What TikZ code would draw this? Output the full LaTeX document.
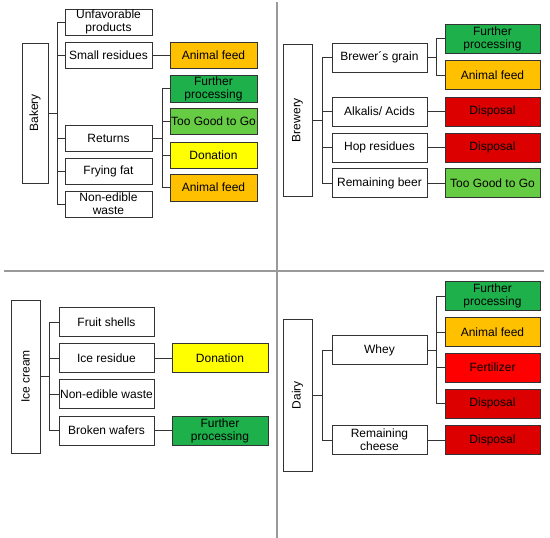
\documentclass[tikz,border=0pt]{standalone}
\usepackage{fontspec}
\setmainfont{Liberation Sans}
\definecolor{fgreen}{HTML}{1DB04B}
\definecolor{lgreen}{HTML}{66CC44}
\definecolor{forange}{HTML}{FFC000}
\definecolor{fyellow}{HTML}{FFFF00}
\definecolor{fred}{HTML}{FF0000}
\definecolor{dred}{HTML}{DD0000}
\definecolor{lines}{HTML}{333333}
\begin{document}
\begin{tikzpicture}[x=1pt,y=-1pt,
  box/.style={draw=lines,line width=1pt,inner sep=0pt,align=center,
    font=\fontsize{12}{13}\selectfont,text=black},
  lone/.style={box,minimum width=87pt,minimum height=26pt},
  ltwo/.style={box,minimum width=95pt,minimum height=29pt},
  root/.style={box,rotate=90},
  conn/.style={draw=lines,line width=1pt},
  divider/.style={draw=gray!80,line width=1.3pt}]
\useasboundingbox (0,0) rectangle (550,538);
% dividers
\draw[divider] (277,2) -- (277,538);
\draw[divider] (4,271) -- (544,271);

% ===== Bakery =====
\node[root,minimum width=140pt,minimum height=26pt] (bak) at (35,113) {Bakery};
\node[lone] (b1) at (108.5,22) {Unfavorable\\products};
\node[lone] (b2) at (108.5,55) {Small residues};
\node[lone] (b3) at (108.5,138) {Returns};
\node[lone] (b4) at (108.5,171) {Frying fat};
\node[lone] (b5) at (108.5,204) {Non-edible\\waste};
\node[lone,fill=forange] (b2a) at (213.5,55) {Animal feed};
\node[lone,fill=fgreen,minimum height=27pt] (b3a) at (213.5,88.5) {Further\\processing};
\node[lone,fill=lgreen] (b3b) at (213.5,121) {Too Good to Go};
\node[lone,fill=fyellow] (b3c) at (213.5,155) {Donation};
\node[lone,fill=forange,minimum height=27pt] (b3d) at (213.5,187.5) {Animal feed};
\coordinate (bbus) at (57,0);
\coordinate (rbus) at (162,0);
\draw[conn] (bak.south) -- (bak.south -| bbus);
\draw[conn] (b1.west -| bbus) -- (b5.west -| bbus);
\foreach \n in {b1,b2,b3,b4,b5} \draw[conn] (\n.west -| bbus) -- (\n.west);
\draw[conn] (b2.east) -- (b2a.west);
\draw[conn] (b3.east) -- (b3.east -| rbus);
\draw[conn] (b3a.west -| rbus) -- (b3d.west -| rbus);
\foreach \n in {b3a,b3b,b3c,b3d} \draw[conn] (\n.west -| rbus) -- (\n.west);

% ===== Brewery =====
\node[root,minimum width=152pt,minimum height=29pt] (brw) at (297.5,120) {Brewery};
\node[ltwo] (r1) at (379.5,57.5) {Brewer´s grain};
\node[ltwo] (r2) at (379.5,111.5) {Alkalis/ Acids};
\node[ltwo] (r3) at (379.5,147.5) {Hop residues};
\node[ltwo] (r4) at (379.5,183) {Remaining beer};
\node[ltwo,fill=fgreen] (r1a) at (492.5,38.5) {Further\\processing};
\node[ltwo,fill=forange] (r1b) at (492.5,75) {Animal feed};
\node[ltwo,fill=dred] (r2a) at (492.5,111.5) {Disposal};
\node[ltwo,fill=dred] (r3a) at (492.5,147.5) {Disposal};
\node[ltwo,fill=lgreen] (r4a) at (492.5,183) {Too Good to Go};
\coordinate (wbus) at (322,0);
\coordinate (gbus) at (436,0);
\draw[conn] (brw.south) -- (brw.south -| wbus);
\draw[conn] (r1.west -| wbus) -- (r4.west -| wbus);
\foreach \n in {r1,r2,r3,r4} \draw[conn] (\n.west -| wbus) -- (\n.west);
\draw[conn] (r1.east) -- (r1.east -| gbus);
\draw[conn] (r1a.west -| gbus) -- (r1b.west -| gbus);
\foreach \n in {r1a,r1b} \draw[conn] (\n.west -| gbus) -- (\n.west);
\draw[conn] (r2.east) -- (r2a.west);
\draw[conn] (r3.east) -- (r3a.west);
\draw[conn] (r4.east) -- (r4a.west);

% ===== Ice cream =====
\node[root,minimum width=153pt,minimum height=29pt] (ice) at (25.5,376.5) {Ice cream};
\node[ltwo] (i1) at (106.5,322) {Fruit shells};
\node[ltwo] (i2) at (106.5,358) {Ice residue};
\node[ltwo] (i3) at (106.5,394) {Non-edible waste};
\node[ltwo] (i4) at (106.5,430.5) {Broken wafers};
\node[ltwo,fill=fyellow,minimum width=96pt] (i2a) at (220,358) {Donation};
\node[ltwo,fill=fgreen,minimum width=96pt] (i4a) at (220,430.5) {Further\\processing};
\coordinate (ibus) at (49,0);
\draw[conn] (ice.south) -- (ice.south -| ibus);
\draw[conn] (i1.west -| ibus) -- (i4.west -| ibus);
\foreach \n in {i1,i2,i3,i4} \draw[conn] (\n.west -| ibus) -- (\n.west);
\draw[conn] (i2.east) -- (i2a.west);
\draw[conn] (i4.east) -- (i4a.west);

% ===== Dairy =====
\node[root,minimum width=152pt,minimum height=29pt] (dai) at (297.5,395) {Dairy};
\node[ltwo] (d1) at (379.5,350) {Whey};
\node[ltwo] (d2) at (379.5,440) {Remaining\\cheese};
\node[ltwo,fill=fgreen] (d1a) at (492.5,296) {Further\\processing};
\node[ltwo,fill=forange] (d1b) at (492.5,332) {Animal feed};
\node[ltwo,fill=fred] (d1c) at (492.5,367.5) {Fertilizer};
\node[ltwo,fill=dred] (d1d) at (492.5,403.5) {Disposal};
\node[ltwo,fill=dred] (d2a) at (492.5,440) {Disposal};
\coordinate (dbus) at (322,0);
\coordinate (ybus) at (436,0);
\draw[conn] (dai.south) -- (dai.south -| dbus);
\draw[conn] (d1.west -| dbus) -- (d2.west -| dbus);
\foreach \n in {d1,d2} \draw[conn] (\n.west -| dbus) -- (\n.west);
\draw[conn] (d1.east) -- (d1.east -| ybus);
\draw[conn] (d1a.west -| ybus) -- (d1d.west -| ybus);
\foreach \n in {d1a,d1b,d1c,d1d} \draw[conn] (\n.west -| ybus) -- (\n.west);
\draw[conn] (d2.east) -- (d2a.west);
\end{tikzpicture}
\end{document}
